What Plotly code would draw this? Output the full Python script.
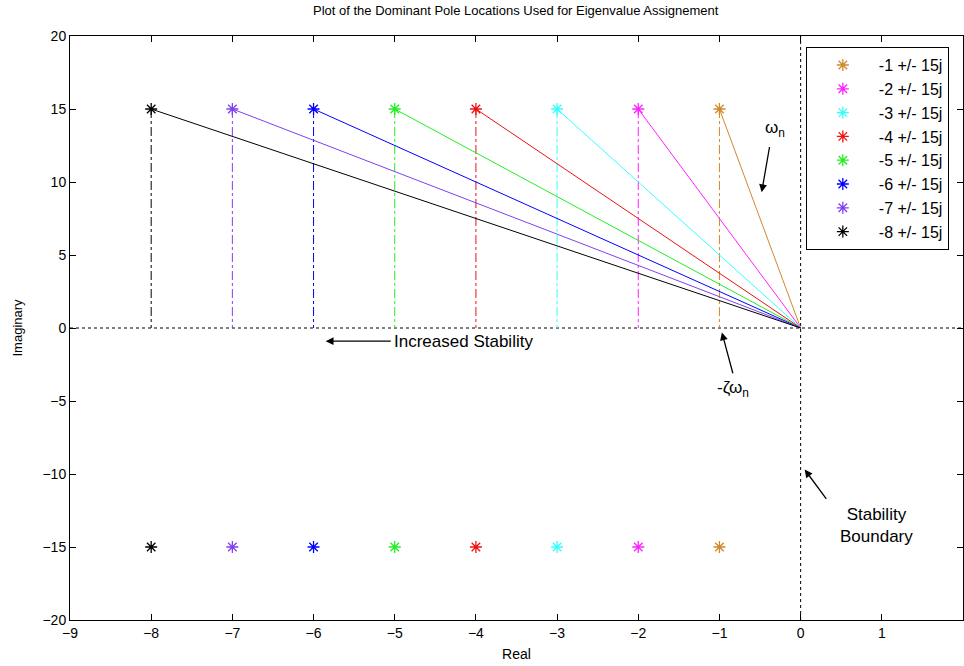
import plotly.graph_objects as go

real_parts = [-1, -2, -3, -4, -5, -6, -7, -8]
imag_part = 15
labels = ["-1 +/- 15j", "-2 +/- 15j", "-3 +/- 15j", "-4 +/- 15j",
          "-5 +/- 15j", "-6 +/- 15j", "-7 +/- 15j", "-8 +/- 15j"]
colors = ["#D08A2A", "#FF22FF", "#33FFFF", "#EE1111",
          "#22EE22", "#0000FF", "#8040F0", "#000000"]

fig = go.Figure()

# dotted axes through origin
fig.add_trace(go.Scatter(x=[-9, 2], y=[0, 0], mode="lines",
                         line=dict(color="black", width=1, dash="dot"),
                         showlegend=False, hoverinfo="skip"))
fig.add_trace(go.Scatter(x=[0, 0], y=[-20, 20], mode="lines",
                         line=dict(color="black", width=1, dash="dot"),
                         showlegend=False, hoverinfo="skip"))

for a, lab, c in zip(real_parts, labels, colors):
    # omega_n line from pole to origin
    fig.add_trace(go.Scatter(x=[a, 0], y=[imag_part, 0], mode="lines",
                             line=dict(color=c, width=1), showlegend=False,
                             hoverinfo="skip"))
    # vertical dash-dot to real axis
    fig.add_trace(go.Scatter(x=[a, a], y=[imag_part, 0], mode="lines",
                             line=dict(color=c, width=1, dash="dashdot"),
                             showlegend=False, hoverinfo="skip"))

for a, lab, c in zip(real_parts, labels, colors):
    fig.add_trace(go.Scatter(x=[a, a], y=[imag_part, -imag_part], mode="markers",
                             name=lab,
                             marker=dict(symbol="asterisk-open", size=10,
                                         line=dict(color=c, width=1.3), color=c)))

font_main = "Liberation Sans, Arial, sans-serif"

annotations = [
    # arrows
    dict(x=-0.48, y=9.3, ax=-0.38, ay=12.5, xref="x", yref="y", axref="x", ayref="y",
         text="", showarrow=True, arrowhead=2, arrowsize=1.2, arrowwidth=1.3, arrowcolor="black"),
    dict(x=-5.85, y=-0.9, ax=-5.03, ay=-0.9, xref="x", yref="y", axref="x", ayref="y",
         text="", showarrow=True, arrowhead=2, arrowsize=1.2, arrowwidth=1.3, arrowcolor="black"),
    dict(x=-0.97, y=-0.3, ax=-0.83, ay=-3.2, xref="x", yref="y", axref="x", ayref="y",
         text="", showarrow=True, arrowhead=2, arrowsize=1.2, arrowwidth=1.3, arrowcolor="black"),
    dict(x=0.05, y=-9.7, ax=0.33, ay=-11.8, xref="x", yref="y", axref="x", ayref="y",
         text="", showarrow=True, arrowhead=2, arrowsize=1.2, arrowwidth=1.3, arrowcolor="black"),
    # texts
    dict(x=-0.32, y=13.6, xref="x", yref="y", text="ω<sub>n</sub>", showarrow=False,
         font=dict(size=17, color="black", family=font_main)),
    dict(x=-5.03, y=-0.95, xref="x", yref="y", text="Increased Stability", showarrow=False,
         xanchor="left", font=dict(size=17, color="black", family=font_main)),
    dict(x=-0.83, y=-4.2, xref="x", yref="y", text="-ζω<sub>n</sub>", showarrow=False,
         font=dict(size=17, color="black", family=font_main)),
    dict(x=0.93, y=-13.5, xref="x", yref="y", text="Stability<br>Boundary", showarrow=False,
         font=dict(size=17, color="black", family=font_main)),
]

fig.update_layout(
    width=964, height=666,
    margin=dict(l=70, r=1, t=36, b=46),
    paper_bgcolor="white", plot_bgcolor="white",
    font=dict(family=font_main, size=14, color="black"),
    title=dict(text="Plot of the Dominant Pole Locations Used for Eigenvalue Assignement",
               x=0.535, xanchor="center", y=0.984, yanchor="middle",
               font=dict(size=13, color="black")),
    xaxis=dict(range=[-9, 2], dtick=1, tick0=-9, showgrid=False, zeroline=False,
               showline=True, linecolor="black", linewidth=1, mirror="ticks",
               ticks="inside", ticklen=6, tickcolor="black",
               title=dict(text="Real", font=dict(size=14), standoff=9)),
    yaxis=dict(range=[-20, 20], dtick=5, tick0=-20, showgrid=False, zeroline=False,
               showline=True, linecolor="black", linewidth=1, mirror="ticks",
               ticks="inside", ticklen=6, tickcolor="black",
               title=dict(text="Imaginary", font=dict(size=13), standoff=16)),
    legend=dict(x=0.824, y=0.981, xanchor="left", yanchor="top",
                bordercolor="black", borderwidth=1, bgcolor="white",
                font=dict(size=16, color="black"), itemwidth=62),
    annotations=annotations,
    showlegend=True,
)

fig.write_html("out.html")
